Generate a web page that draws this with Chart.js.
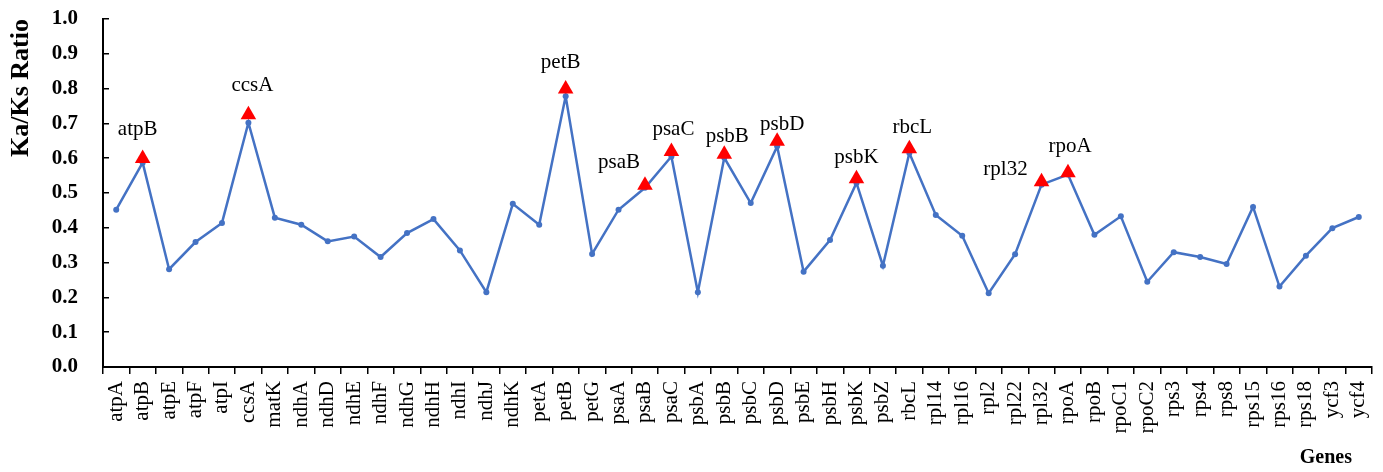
<!DOCTYPE html>
<html>
<head>
<meta charset="utf-8">
<script src="https://cdn.jsdelivr.net/npm/chart.js@4.4.1/dist/chart.umd.min.js"></script>
<style>
  html, body { margin: 0; padding: 0; background: #fff; }
</style>
</head>
<body>
<canvas id="kaks" width="1383" height="472"></canvas>
<script>
// genes on the x axis
var genes = ['atpA', 'atpB', 'atpE', 'atpF', 'atpI', 'ccsA', 'matK', 'ndhA', 'ndhD', 'ndhE',
    'ndhF', 'ndhG', 'ndhH', 'ndhI', 'ndhJ', 'ndhK', 'petA', 'petB', 'petG', 'psaA',
    'psaB', 'psaC', 'psbA', 'psbB', 'psbC', 'psbD', 'psbE', 'psbH', 'psbK', 'psbZ',
    'rbcL', 'rpl14', 'rpl16', 'rpl2', 'rpl22', 'rpl32', 'rpoA', 'rpoB', 'rpoC1', 'rpoC2',
    'rps3', 'rps4', 'rps8', 'rps15', 'rps16', 'rps18', 'ycf3', 'ycf4'];

// Ka/Ks ratio per gene (blue line)
var kaksValues = [0.452, 0.587, 0.281, 0.359, 0.414, 0.702, 0.429, 0.409, 0.361, 0.375,
    0.316, 0.385, 0.425, 0.335, 0.215, 0.469, 0.409, 0.778, 0.325, 0.452,
    0.515, 0.605, 0.215, 0.601, 0.471, 0.634, 0.274, 0.365, 0.529, 0.291,
    0.615, 0.437, 0.377, 0.212, 0.324, 0.524, 0.553, 0.380, 0.433, 0.245,
    0.330, 0.316, 0.296, 0.460, 0.231, 0.320, 0.399, 0.431];

// genes marked with a red triangle
var markedGenes = ['atpB', 'ccsA', 'petB', 'psaB', 'psaC', 'psbB', 'psbD', 'psbK', 'rbcL', 'rpl32', 'rpoA'];
var markedValues = [0.599, 0.725, 0.799, 0.522, 0.619, 0.611, 0.649, 0.541, 0.627, 0.532, 0.558];

// where each triangle's name sits, relative to the triangle (px)
var labelOffsets = {
    atpB: [-5, -24], ccsA: [4, -24], petB: [-5, -21], psaB: [-26, -17], psaC: [2, -17],
    psbB: [3, -12], psbD: [5, -11], psbK: [0, -16], rbcL: [3, -16], rpl32: [-36, -7], rpoA: [2, -21]
};

var serif = '"Liberation Serif", "Times New Roman", serif';

var markedData = genes.map(function (g) {
    var k = markedGenes.indexOf(g);
    return k < 0 ? null : markedValues[k];
});

var markerLabels = {
    id: 'markerLabels',
    afterDatasetsDraw: function (chart) {
        var meta = chart.getDatasetMeta(0);
        var ctx = chart.ctx;
        ctx.save();
        ctx.font = '21px ' + serif;
        ctx.fillStyle = '#000';
        ctx.textAlign = 'center';
        ctx.textBaseline = 'alphabetic';
        genes.forEach(function (g, i) {
            if (markedGenes.indexOf(g) < 0) return;
            var pt = meta.data[i];
            var off = labelOffsets[g];
            ctx.fillText(g, pt.x + off[0], pt.y + off[1]);
        });
        ctx.restore();
    }
};

var ctx = document.getElementById('kaks').getContext('2d');

var kaksChart = new Chart(ctx, {
    type: 'line',
    data: {
        labels: genes,
        datasets: [{
            label: 'Marked genes',
            data: markedData,
            showLine: false,
            pointStyle: 'triangle',
            pointRadius: 9,
            pointHoverRadius: 9,
            pointBackgroundColor: '#ff0000',
            pointBorderColor: '#ff0000',
            pointBorderWidth: 0,
            order: 0
        }, {
            label: 'Ka/Ks',
            data: kaksValues,
            borderColor: '#4472c4',
            borderWidth: 2.5,
            tension: 0,
            pointRadius: 3,
            pointHoverRadius: 3,
            pointBackgroundColor: '#4472c4',
            pointBorderWidth: 0,
            order: 1
        }]
    },
    options: {
        responsive: false,
        animation: false,
        devicePixelRatio: 1,
        layout: {
            padding: { top: 19, right: 11, left: 0, bottom: 0 }
        },
        plugins: {
            legend: { display: false },
            tooltip: { enabled: false }
        },
        scales: {
            x: {
                offset: true,
                border: { display: true, color: '#000', width: 2 },
                grid: {
                    offset: true,
                    drawOnChartArea: false,
                    drawTicks: true,
                    tickLength: 7,
                    color: '#000',
                    lineWidth: 1.5
                },
                ticks: {
                    autoSkip: false,
                    maxRotation: 90,
                    minRotation: 90,
                    padding: 7,
                    color: '#000',
                    font: { family: serif, size: 21 }
                },
                title: {
                    display: true,
                    // trailing spaces pull the title in from the right end
                    text: 'Genes\u00a0\u00a0\u00a0\u00a0',
                    align: 'end',
                    color: '#000',
                    font: { family: serif, size: 20, weight: 'bold' },
                    padding: { top: 0, bottom: 2 }
                },
                afterFit: function (scale) {
                    scale.height = 105;
                    scale.paddingLeft = 0;
                    scale.paddingRight = 0;
                }
            },
            y: {
                min: 0,
                max: 1,
                border: { display: true, color: '#000', width: 2 },
                grid: {
                    drawOnChartArea: false,
                    drawTicks: true,
                    tickLength: -6,
                    color: '#000',
                    lineWidth: 1.5
                },
                ticks: {
                    stepSize: 0.1,
                    padding: 31,
                    color: '#000',
                    font: { family: serif, size: 21, weight: 'bold' },
                    callback: function (v) { return v.toFixed(1); }
                },
                title: {
                    display: true,
                    text: 'Ka/Ks Ratio',
                    align: 'end',
                    color: '#000',
                    font: { family: serif, size: 26, weight: 'bold' },
                    padding: { top: 6, bottom: 0 }
                },
                afterFit: function (scale) {
                    scale.width = 103;
                    scale.paddingTop = 0;
                    scale.paddingBottom = 0;
                }
            }
        }
    },
    plugins: [markerLabels]
});
</script>
</body>
</html>
